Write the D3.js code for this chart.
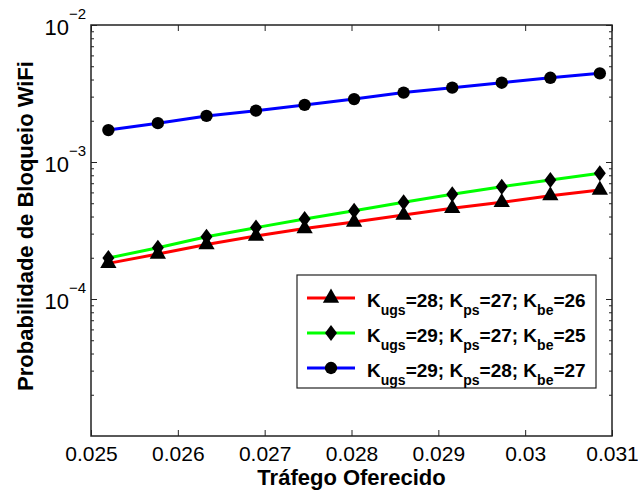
<!DOCTYPE html>
<html>
<head>
<meta charset="utf-8">
<script src="https://cdn.jsdelivr.net/npm/d3@7"></script>
<style>
  body { margin: 0; background: #fff; }
  text { font-family: "Liberation Sans", Arial, sans-serif; fill: #000; }
</style>
</head>
<body>
<div id="chart"></div>
<script>
// traffic offered (x) and blocking probability per configuration
const trafego = [0.0252, 0.02577, 0.02633, 0.0269, 0.02746, 0.02803, 0.0286, 0.02916, 0.02973, 0.03029, 0.03086];
const serieA = [1.82e-4, 2.13e-4, 2.50e-4, 2.88e-4, 3.27e-4, 3.65e-4, 4.10e-4, 4.59e-4, 5.08e-4, 5.68e-4, 6.25e-4];
const serieB = [1.99e-4, 2.37e-4, 2.85e-4, 3.32e-4, 3.84e-4, 4.41e-4, 5.08e-4, 5.81e-4, 6.60e-4, 7.39e-4, 8.27e-4];
const serieC = [1.71e-3, 1.92e-3, 2.17e-3, 2.37e-3, 2.61e-3, 2.88e-3, 3.21e-3, 3.49e-3, 3.79e-3, 4.12e-3, 4.44e-3];

const kUgs = [28, 29, 29];
const kPs = [27, 27, 28];
const kBe = [26, 25, 27];

const xTicks = [0.025, 0.026, 0.027, 0.028, 0.029, 0.03, 0.031];
const yTickExps = [-4, -3, -2];

const series = [
  {values: serieA, color: '#ff0000', marker: d3.symbolTriangle, size: 115},
  {values: serieB, color: '#00ff00', marker: 'diamond', size: 0},
  {values: serieC, color: '#0000ff', marker: d3.symbolCircle, size: 120},
];

const W = 638;
const H = 491;
const margin = {top: 25, right: 26, bottom: 55, left: 91};
const width = W - margin.left - margin.right;
const height = H - margin.top - margin.bottom;

const svg = d3.select('#chart').append('svg')
  .attr('width', W)
  .attr('height', H);

const g = svg.append('g').attr('transform', `translate(${margin.left},${margin.top})`);

const x = d3.scaleLinear().domain([0.025, 0.031]).range([0, width]);
const y = d3.scaleLog().domain([1e-5, 1e-2]).range([height, 0]);

// ticks inside the box, MATLAB style
const axisStyle = sel => {
  sel.select('.domain').remove();
  sel.selectAll('.tick line').attr('stroke', '#222').attr('stroke-width', 1);
};

g.append('g')
  .attr('transform', `translate(0,${height})`)
  .call(d3.axisBottom(x).tickValues(xTicks).tickSizeInner(-6).tickPadding(10).tickFormat(d3.format('')))
  .call(axisStyle)
  .call(s => s.selectAll('text').attr('font-size', 21).attr('font-family', '"Liberation Sans", Arial, sans-serif'));

g.append('g')
  .call(d3.axisTop(x).tickValues(xTicks).tickSizeInner(-6).tickFormat(''))
  .call(axisStyle);

const minor = y.ticks().filter(v => Math.abs(Math.log10(v) % 1) > 1e-6);
const major = yTickExps.map(e => Math.pow(10, e));

g.append('g').call(d3.axisLeft(y).tickValues(minor).tickSizeInner(-3).tickFormat('')).call(axisStyle);
g.append('g').call(d3.axisLeft(y).tickValues(major).tickSizeInner(-6).tickFormat('')).call(axisStyle);
g.append('g').attr('transform', `translate(${width},0)`)
  .call(d3.axisRight(y).tickValues(minor).tickSizeInner(-3).tickFormat('')).call(axisStyle);
g.append('g').attr('transform', `translate(${width},0)`)
  .call(d3.axisRight(y).tickValues(major).tickSizeInner(-6).tickFormat('')).call(axisStyle);

// y tick labels 10^n
const yl = g.append('g').selectAll('text').data(yTickExps).join('text')
  .attr('x', -5)
  .attr('y', d => y(Math.pow(10, d)) + 10)
  .attr('text-anchor', 'end')
  .attr('font-size', 22);
yl.append('tspan').text('10');
yl.append('tspan').attr('dy', -16).attr('font-size', 15).text(d => '\u2212' + Math.abs(d));

// box
g.append('rect')
  .attr('width', width)
  .attr('height', height)
  .attr('fill', 'none')
  .attr('stroke', '#222')
  .attr('stroke-width', 1.5);

const line = d3.line()
  .x((d, i) => x(trafego[i]))
  .y(d => y(d));

const diamondPath = 'M0,-8L6,0L0,8L-6,0Z';
const drawMarker = (sel, s) => {
  if (s.marker === 'diamond') {
    sel.append('path').attr('d', diamondPath).attr('fill', '#000');
  } else {
    sel.append('path').attr('d', d3.symbol(s.marker, s.size)()).attr('fill', '#000');
  }
};

series.forEach(s => {
  g.append('path')
    .datum(s.values)
    .attr('fill', 'none')
    .attr('stroke', s.color)
    .attr('stroke-width', 3)
    .attr('d', line);
  s.values.forEach((v, i) => {
    const m = g.append('g').attr('transform', `translate(${x(trafego[i])},${y(v)})`);
    drawMarker(m, s);
  });
});

// axis titles
svg.append('text')
  .attr('x', margin.left + width / 2)
  .attr('y', 485)
  .attr('text-anchor', 'middle')
  .attr('font-size', 22)
  .attr('font-weight', 'bold')
  .text('Tráfego Oferecido');

svg.append('text')
  .attr('transform', 'translate(33,226) rotate(-90)')
  .attr('text-anchor', 'middle')
  .attr('font-size', 22)
  .attr('font-weight', 'bold')
  .text('Probabilidade de Bloqueio WiFi');

// legend
const leg = svg.append('g').attr('transform', 'translate(297,275)');
leg.append('rect')
  .attr('width', 299)
  .attr('height', 113)
  .attr('fill', '#fff')
  .attr('stroke', '#222')
  .attr('stroke-width', 1.2);

series.forEach((s, i) => {
  const row = leg.append('g').attr('transform', `translate(0,${23 + i * 35})`);
  row.append('line')
    .attr('x1', 10).attr('x2', 58)
    .attr('stroke', s.color)
    .attr('stroke-width', 3);
  drawMarker(row.append('g').attr('transform', 'translate(34,0)'), s);
  const t = row.append('text')
    .attr('x', 70)
    .attr('y', 9)
    .attr('font-size', 19)
    .attr('font-weight', 'bold');
  t.append('tspan').text('K');
  t.append('tspan').attr('dy', 8).attr('font-size', 14).text('ugs');
  t.append('tspan').attr('dy', -8).text(`=${kUgs[i]}; K`);
  t.append('tspan').attr('dy', 8).attr('font-size', 14).text('ps');
  t.append('tspan').attr('dy', -8).text(`=${kPs[i]}; K`);
  t.append('tspan').attr('dy', 8).attr('font-size', 14).text('be');
  t.append('tspan').attr('dy', -8).text(`=${kBe[i]}`);
});
</script>
</body>
</html>
